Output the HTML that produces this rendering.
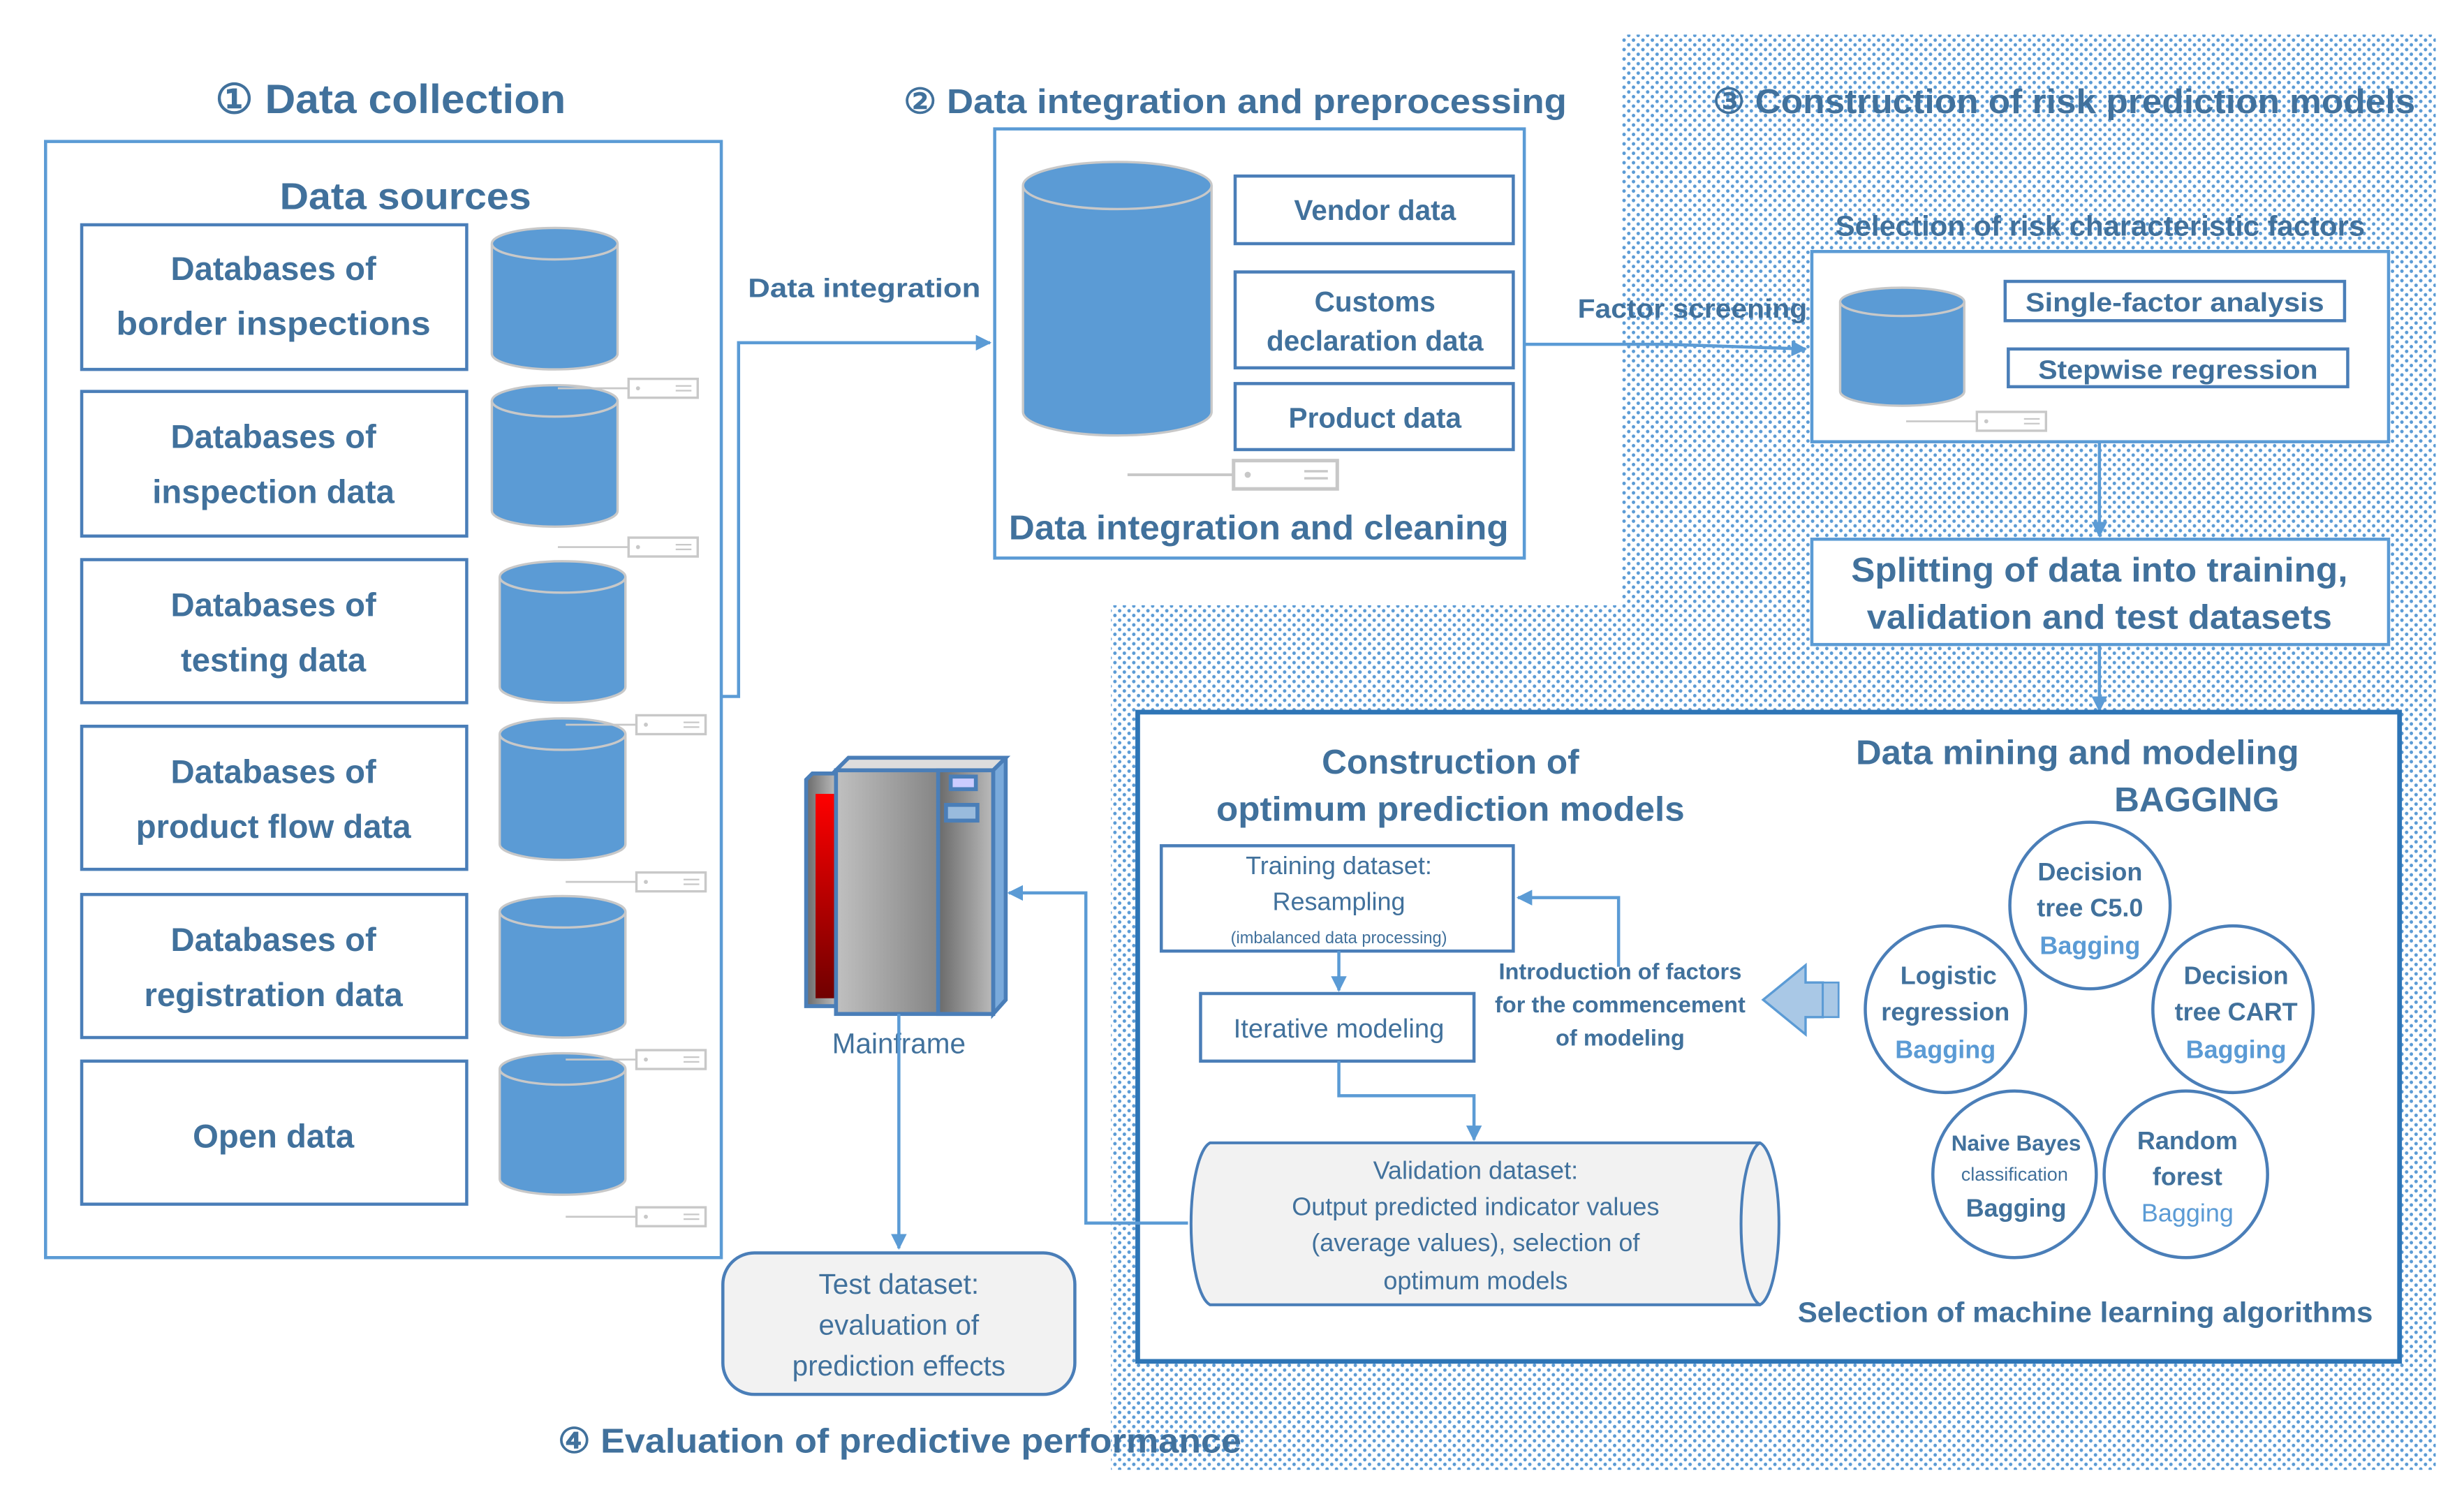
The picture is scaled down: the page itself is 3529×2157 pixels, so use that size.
<!DOCTYPE html>
<html><head><meta charset="utf-8"><style>
html,body{margin:0;padding:0;background:#fff;}
svg{display:block;}
text{font-family:"Liberation Sans",sans-serif;fill:#41719c;}
.b{font-weight:bold;}
</style></head><body>
<svg width="3529" height="2157" viewBox="0 0 1568 958" preserveAspectRatio="none" xmlns="http://www.w3.org/2000/svg">
<defs>
<pattern id="dots" width="6" height="6" patternUnits="userSpaceOnUse">
<circle cx="1.5" cy="1.5" r="1.1" fill="#5b9bd5"/><circle cx="4.5" cy="4.5" r="1.1" fill="#5b9bd5"/>
</pattern>
<linearGradient id="gm" x1="0" x2="1"><stop offset="0" stop-color="#c0c0c0"/><stop offset="1" stop-color="#666"/></linearGradient>
<linearGradient id="gs" x1="0" x2="1"><stop offset="0" stop-color="#6a6a6a"/><stop offset="1" stop-color="#bbb"/></linearGradient>
<linearGradient id="gr" x1="0" y1="0" x2="0" y2="1"><stop offset="0" stop-color="#ff0000"/><stop offset="1" stop-color="#700000"/></linearGradient>
<marker id="ar" viewBox="0 0 10 10" refX="9" refY="5" markerWidth="5" markerHeight="5" orient="auto" markerUnits="strokeWidth"><path d="M0,0 L10,5 L0,10 z" fill="#5b9bd5"/></marker>
<g id="cyl">
<path d="M0,10 L0,80 A40,10 0 0 0 80,80 L80,10" fill="#5b9bd5" stroke="#c8c8c8" stroke-width="1.5"/>
<ellipse cx="40" cy="10" rx="40" ry="10" fill="#5b9bd5" stroke="#c8c8c8" stroke-width="1.5"/>
</g>
<g id="dev">
<line x1="-45" y1="6" x2="0" y2="6" stroke="#c8c8c8" stroke-width="1.2"/>
<rect x="0" y="0" width="44" height="12" fill="#fff" stroke="#c8c8c8" stroke-width="1.5"/>
<circle cx="6" cy="6" r="1.3" fill="#c8c8c8"/><line x1="30" y1="4.5" x2="40" y2="4.5" stroke="#c8c8c8"/><line x1="30" y1="7.5" x2="40" y2="7.5" stroke="#c8c8c8"/>
</g>
</defs>

<path d="M1032,22 L1550,22 L1550,935 L707,935 L707,385 L1032,385 Z" fill="url(#dots)"/>

<text x="137" y="72" class="b" font-size="26" textLength="223" lengthAdjust="spacingAndGlyphs">① Data collection</text>
<text x="575" y="72" class="b" font-size="22" textLength="422" lengthAdjust="spacingAndGlyphs">②  Data integration and preprocessing</text>
<text x="1090" y="72" class="b" font-size="22" textLength="447" lengthAdjust="spacingAndGlyphs">③ Construction of risk prediction models</text>
<text x="355" y="924" class="b" font-size="22" textLength="435" lengthAdjust="spacingAndGlyphs">④ Evaluation of predictive performance</text>

<rect x="29" y="90" width="430" height="710" fill="#fff" stroke="#5b9bd5" stroke-width="2"/>
<text x="258" y="133" class="b" font-size="24" text-anchor="middle" textLength="160" lengthAdjust="spacingAndGlyphs">Data sources</text>
<g fill="#fff" stroke="#4a7eb8" stroke-width="2">
<rect x="52" y="143" width="245" height="92"/><rect x="52" y="249" width="245" height="92"/>
<rect x="52" y="356" width="245" height="91"/><rect x="52" y="462" width="245" height="91"/>
<rect x="52" y="569" width="245" height="91"/><rect x="52" y="675" width="245" height="91"/>
</g>
<g class="b" font-size="21" text-anchor="middle">
<text x="174" y="178" class="b">Databases of</text><text x="174" y="213" class="b" textLength="200" lengthAdjust="spacingAndGlyphs">border inspections</text>
<text x="174" y="285" class="b">Databases of</text><text x="174" y="320" class="b">inspection data</text>
<text x="174" y="392" class="b">Databases of</text><text x="174" y="427" class="b">testing data</text>
<text x="174" y="498" class="b">Databases of</text><text x="174" y="533" class="b">product flow data</text>
<text x="174" y="605" class="b">Databases of</text><text x="174" y="640" class="b">registration data</text>
<text x="174" y="730" class="b">Open data</text>
</g>
<use href="#cyl" transform="translate(313,145)"/><use href="#cyl" transform="translate(313,245)"/>
<use href="#cyl" transform="translate(318,357)"/><use href="#cyl" transform="translate(318,457)"/>
<use href="#cyl" transform="translate(318,570)"/><use href="#cyl" transform="translate(318,670)"/>
<use href="#dev" transform="translate(400,241)"/><use href="#dev" transform="translate(400,342)"/>
<use href="#dev" transform="translate(405,455)"/><use href="#dev" transform="translate(405,555)"/>
<use href="#dev" transform="translate(405,668)"/><use href="#dev" transform="translate(405,768)"/>

<polyline points="459,443 470,443 470,218 630,218" fill="none" stroke="#5b9bd5" stroke-width="2" marker-end="url(#ar)"/>
<text x="476" y="189" class="b" font-size="17" textLength="148" lengthAdjust="spacingAndGlyphs">Data integration</text>

<rect x="633" y="82" width="337" height="273" fill="#fff" stroke="#5b9bd5" stroke-width="2"/>
<path d="M651,118 L651,262 A60,15 0 0 0 771,262 L771,118" fill="#5b9bd5" stroke="#c8c8c8" stroke-width="1.5"/>
<ellipse cx="711" cy="118" rx="60" ry="15" fill="#5b9bd5" stroke="#c8c8c8" stroke-width="1.5"/>
<g fill="#fff" stroke="#4a7eb8" stroke-width="2">
<rect x="786" y="112" width="177" height="43"/><rect x="786" y="173" width="177" height="61"/><rect x="786" y="244" width="177" height="42"/>
</g>
<g font-size="18" text-anchor="middle">
<text x="875" y="140" class="b">Vendor data</text>
<text x="875" y="198" class="b">Customs</text><text x="875" y="223" class="b">declaration data</text>
<text x="875" y="272" class="b">Product data</text>
</g>
<use href="#dev" transform="translate(785,293) scale(1.5)"/>
<text x="801" y="343" class="b" font-size="22" text-anchor="middle" textLength="318" lengthAdjust="spacingAndGlyphs">Data integration and cleaning</text>

<polyline points="970,219 1060,219 1149,222" fill="none" stroke="#5b9bd5" stroke-width="2" marker-end="url(#ar)"/>
<text x="1004" y="202" class="b" font-size="17" textLength="146" lengthAdjust="spacingAndGlyphs">Factor screening</text>

<text x="1168" y="150" class="b" font-size="18" textLength="337" lengthAdjust="spacingAndGlyphs">Selection of risk characteristic factors</text>
<rect x="1153" y="160" width="367" height="121" fill="#fff" stroke="#5b9bd5" stroke-width="2"/>
<path d="M1171,192 L1171,249 A39,9 0 0 0 1250,249 L1250,192" fill="#5b9bd5" stroke="#c8c8c8" stroke-width="1.5"/>
<ellipse cx="1210.5" cy="192" rx="39.5" ry="9" fill="#5b9bd5" stroke="#c8c8c8" stroke-width="1.5"/>
<use href="#dev" transform="translate(1258,262)"/>
<rect x="1276" y="179" width="216" height="25" fill="#fff" stroke="#4a7eb8" stroke-width="2"/>
<rect x="1278" y="222" width="216" height="24" fill="#fff" stroke="#4a7eb8" stroke-width="2"/>
<text x="1384" y="198" class="b" font-size="17" text-anchor="middle" textLength="190" lengthAdjust="spacingAndGlyphs">Single-factor analysis</text>
<text x="1386" y="241" class="b" font-size="17" text-anchor="middle" textLength="178" lengthAdjust="spacingAndGlyphs">Stepwise regression</text>
<line x1="1336" y1="281" x2="1336" y2="341" stroke="#5b9bd5" stroke-width="2" marker-end="url(#ar)"/>
<rect x="1153" y="343" width="367" height="67" fill="#fff" stroke="#5b9bd5" stroke-width="2"/>
<text x="1336" y="370" class="b" font-size="22" text-anchor="middle" textLength="316" lengthAdjust="spacingAndGlyphs">Splitting of data into training,</text>
<text x="1336" y="400" class="b" font-size="22" text-anchor="middle" textLength="296" lengthAdjust="spacingAndGlyphs">validation and test datasets</text>
<line x1="1336" y1="410" x2="1336" y2="452" stroke="#5b9bd5" stroke-width="2" marker-end="url(#ar)"/>

<rect x="724" y="453" width="803" height="413" fill="#fff" stroke="#2e75b6" stroke-width="3"/>
<text x="923" y="492" class="b" font-size="22" text-anchor="middle">Construction of</text>
<text x="923" y="522" class="b" font-size="22" text-anchor="middle" textLength="298" lengthAdjust="spacingAndGlyphs">optimum prediction models</text>
<text x="1322" y="486" class="b" font-size="22" text-anchor="middle" textLength="282" lengthAdjust="spacingAndGlyphs">Data mining and modeling</text>
<text x="1398" y="516" class="b" font-size="22" text-anchor="middle">BAGGING</text>

<rect x="739" y="538" width="224" height="67" fill="#fff" stroke="#4a7eb8" stroke-width="2"/>
<text x="852" y="556" font-size="16" text-anchor="middle">Training dataset:</text>
<text x="852" y="579" font-size="16" text-anchor="middle">Resampling</text>
<text x="852" y="600" font-size="10.5" text-anchor="middle">(imbalanced data processing)</text>
<line x1="852" y1="605" x2="852" y2="630" stroke="#5b9bd5" stroke-width="2" marker-end="url(#ar)"/>
<rect x="764" y="632" width="174" height="43" fill="#fff" stroke="#4a7eb8" stroke-width="2"/>
<text x="852" y="660" font-size="17" text-anchor="middle">Iterative modeling</text>
<polyline points="852,675 852,697 938,697 938,725" fill="none" stroke="#5b9bd5" stroke-width="2" marker-end="url(#ar)"/>
<polyline points="1030,615 1030,571 966,571" fill="none" stroke="#5b9bd5" stroke-width="2" marker-end="url(#ar)"/>
<g font-size="14.5" text-anchor="middle">
<text x="1031" y="623" class="b">Introduction of factors</text>
<text x="1031" y="644" class="b">for the commencement</text>
<text x="1031" y="665" class="b">of modeling</text>
</g>
<path d="M1122,636 L1149,614 L1149,625 L1160,625 L1160,647 L1149,647 L1149,658 Z" fill="#a9c8e6" stroke="#5b9bd5" stroke-width="1.5"/>
<rect x="1160" y="625" width="10" height="22" fill="#a9c8e6" stroke="#5b9bd5" stroke-width="1.2"/>

<path d="M770,727 L1120,727 A14,52 0 0 1 1120,830 L770,830 A14,52 0 0 1 770,727 Z" fill="#f2f2f2" stroke="#4a7eb8" stroke-width="1.8"/>
<path d="M1120,727 A14,52 0 0 0 1120,830" fill="none" stroke="#4a7eb8" stroke-width="1.8"/>
<g font-size="16" text-anchor="middle">
<text x="939" y="750">Validation dataset:</text>
<text x="939" y="773">Output predicted indicator values</text>
<text x="939" y="796">(average values), selection of</text>
<text x="939" y="820">optimum models</text>
</g>
<polyline points="756,778 691,778 691,568 642,568" fill="none" stroke="#5b9bd5" stroke-width="2" marker-end="url(#ar)"/>

<g fill="#fff" stroke="#4a7eb8" stroke-width="2">
<ellipse cx="1330" cy="576" rx="51" ry="53"/><ellipse cx="1238" cy="642" rx="51" ry="53"/>
<ellipse cx="1421" cy="642" rx="51" ry="53"/><ellipse cx="1282" cy="747" rx="52" ry="53"/>
<ellipse cx="1391" cy="747" rx="52" ry="53"/>
</g>
<g font-size="16" text-anchor="middle">
<text x="1330" y="560" class="b">Decision</text><text x="1330" y="583" class="b">tree C5.0</text><text x="1330" y="607" class="b" style="fill:#5b9bd5">Bagging</text>
<text x="1240" y="626" class="b">Logistic</text><text x="1238" y="649" class="b">regression</text><text x="1238" y="673" class="b" style="fill:#5b9bd5">Bagging</text>
<text x="1423" y="626" class="b">Decision</text><text x="1423" y="649" class="b">tree CART</text><text x="1423" y="673" class="b" style="fill:#5b9bd5">Bagging</text>
<text x="1283" y="732" class="b" font-size="14">Naive Bayes</text><text x="1282" y="751" font-size="12">classification</text><text x="1283" y="774" class="b">Bagging</text>
<text x="1392" y="731" class="b">Random</text><text x="1392" y="754" class="b">forest</text><text x="1392" y="777" style="fill:#5b9bd5">Bagging</text>
</g>
<text x="1327" y="841" class="b" font-size="18" text-anchor="middle" textLength="366" lengthAdjust="spacingAndGlyphs">Selection of machine learning algorithms</text>

<g stroke="#4a7eb8" stroke-width="2.5">
<polygon points="513,496 517,492 532,492 532,640 513,640" fill="url(#gs)"/>
<rect x="519" y="505" width="12" height="130" fill="url(#gr)" stroke="none"/>
<polygon points="532,490 540,482 640,482 640,636 632,645 632,490" fill="#7aaadb"/>
<polygon points="532,490 540,482 640,482 632,490" fill="#ddd"/>
<rect x="532" y="490" width="100" height="155" fill="url(#gm)"/>
<rect x="597" y="490" width="35" height="155" fill="url(#gs)"/>
<rect x="605" y="494" width="16" height="8" fill="#ccf"/>
<rect x="602" y="512" width="20" height="10" fill="#9bd"/>
</g>
<text x="572" y="670" font-size="18" text-anchor="middle">Mainframe</text>
<line x1="572" y1="645" x2="572" y2="794" stroke="#5b9bd5" stroke-width="2" marker-end="url(#ar)"/>
<rect x="460" y="797" width="224" height="90" rx="20" fill="#f2f2f2" stroke="#4a7eb8" stroke-width="2"/>
<g font-size="18" text-anchor="middle">
<text x="572" y="823">Test dataset:</text><text x="572" y="849">evaluation of</text><text x="572" y="875">prediction effects</text>
</g>
</svg>
</body></html>
